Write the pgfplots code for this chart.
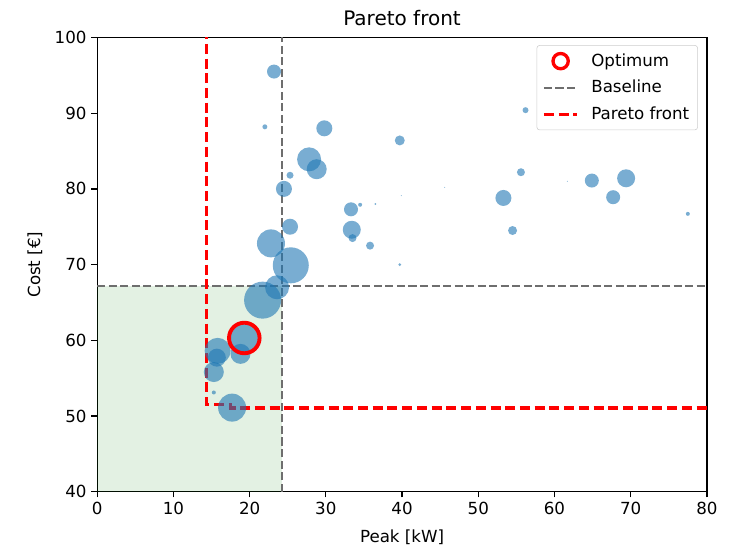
\documentclass[border=0pt]{standalone}
\usepackage{pgfplots}
\pgfplotsset{compat=1.18}
\usepackage{fontspec}
\setmainfont{DejaVu Sans}
\definecolor{mblue}{RGB}{31,119,180}
\definecolor{mgreen}{RGB}{0,128,0}
\definecolor{mred}{RGB}{255,0,0}
\definecolor{mgray}{RGB}{110,110,110}
\pgfplotstableread{
x y r
23.2 95.5 7
22.0 88.2 2.5
29.8 88.0 8
39.7 86.4 5
56.2 90.4 3
27.8 83.9 12
28.8 82.6 10
25.3 81.8 3.5
24.5 80.0 8
25.3 75.0 8
22.8 72.8 14
25.4 69.9 18
23.6 67.0 12
21.7 65.3 18.5
19.3 60.3 15
18.8 58.2 10
15.8 58.6 13
15.7 57.7 9
15.3 55.8 10
15.3 53.1 2
17.7 51.1 14
33.3 77.3 7
34.5 77.9 2
36.5 78.0 1
33.4 74.6 9
33.5 73.5 4
35.8 72.5 4
39.7 70.0 1.5
45.6 80.2 0.5
39.9 79.1 0.5
53.3 78.8 8
54.5 74.5 4.5
55.6 82.2 4
61.7 81.0 0.5
64.9 81.1 7
69.4 81.4 9
67.7 78.9 7
77.5 76.7 2
}\bubbles
\begin{document}
\begin{tikzpicture}
\begin{axis}[
  scale only axis,
  width=439pt, height=327pt,
  xmin=0, xmax=80, ymin=40, ymax=100,
  xtick={0,10,...,80}, ytick={40,50,...,100},
  tick align=outside, tick pos=left,
  major tick length=4.2pt,
  every tick/.style={black, line width=0.9pt},
  axis line style={line width=0.9pt},
  /pgf/number format/assume math mode=true,
  tick label style={font=\fontsize{12}{14}\selectfont},
  label style={font=\fontsize{12}{14}\selectfont},
  xlabel={Peak [kW]}, ylabel={Cost [€]},
  xlabel style={yshift=-4pt},
  ylabel style={yshift=2pt},
  title={Pareto front},
  title style={font=\fontsize{14.4}{16}\selectfont, yshift=-1pt},
  clip=true,
  legend cell align=left,
  legend style={at={(1,1)}, anchor=north east, xshift=-6.5pt, yshift=-5.5pt,
    draw=black!20, rounded corners=2pt, fill=white, fill opacity=0.8, text opacity=1,
    font=\fontsize{12}{14}\selectfont, row sep=4.5pt, inner xsep=4pt, inner ysep=4pt},
  legend image code/.code={\draw[#1] (0pt,0pt) -- (24pt,0pt); \path (31pt,0pt);},
]
\addlegendimage{only marks, mark=o, mark size=6pt, mred, line width=2.2pt,
  legend image code/.code={\draw[mred, line width=2.4pt] (12pt,0pt) circle (5.5pt); \path (31pt,0pt);}}
\addlegendentry{Optimum}
\addlegendimage{mgray, line width=1.5pt, dash pattern=on 5.8pt off 2.5pt}
\addlegendentry{Baseline}
\addlegendimage{mred, line width=2.2pt, dash pattern=on 7.2pt off 3.4pt}
\addlegendentry{Pareto front}

\addplot[forget plot, draw=none, fill=mgreen, fill opacity=0.11]
  coordinates {(0,40) (24.3,40) (24.3,67.2) (0,67.2)} -- cycle;

\addplot[forget plot, scatter, only marks, mark=*,
  scatter/use mapped color={draw=mblue, fill=mblue},
  mark options={fill opacity=0.6, draw opacity=0},
  visualization depends on={0.72*\thisrow{r} \as \rad},
  scatter/@pre marker code/.append style={/tikz/mark size=\rad}]
  table[x=x, y=y] {\bubbles};

\addplot[forget plot, mgray, line width=1.5pt, dash pattern=on 5.8pt off 2.5pt]
  coordinates {(24.3,40) (24.3,100)};
\addplot[forget plot, mgray, line width=1.5pt, dash pattern=on 5.8pt off 2.5pt]
  coordinates {(0,67.2) (80,67.2)};

\addplot[forget plot, mred, line width=2.2pt, dash pattern=on 7.2pt off 3.4pt]
  coordinates {(14.4,105) (14.4,51.5) (17.5,51.5) (17.5,51.05) (85,51.05)};

\addplot[forget plot, only marks, mark=o, mark size=11pt, mred, line width=2.8pt]
  coordinates {(19.3,60.3)};
\end{axis}
\path (current axis.south west) ++(-70pt,-39pt) coordinate (bbl);
\path (current axis.north east) ++(26pt,27pt) coordinate (bbr);
\path (bbl) rectangle (bbr);
\end{tikzpicture}
\end{document}
